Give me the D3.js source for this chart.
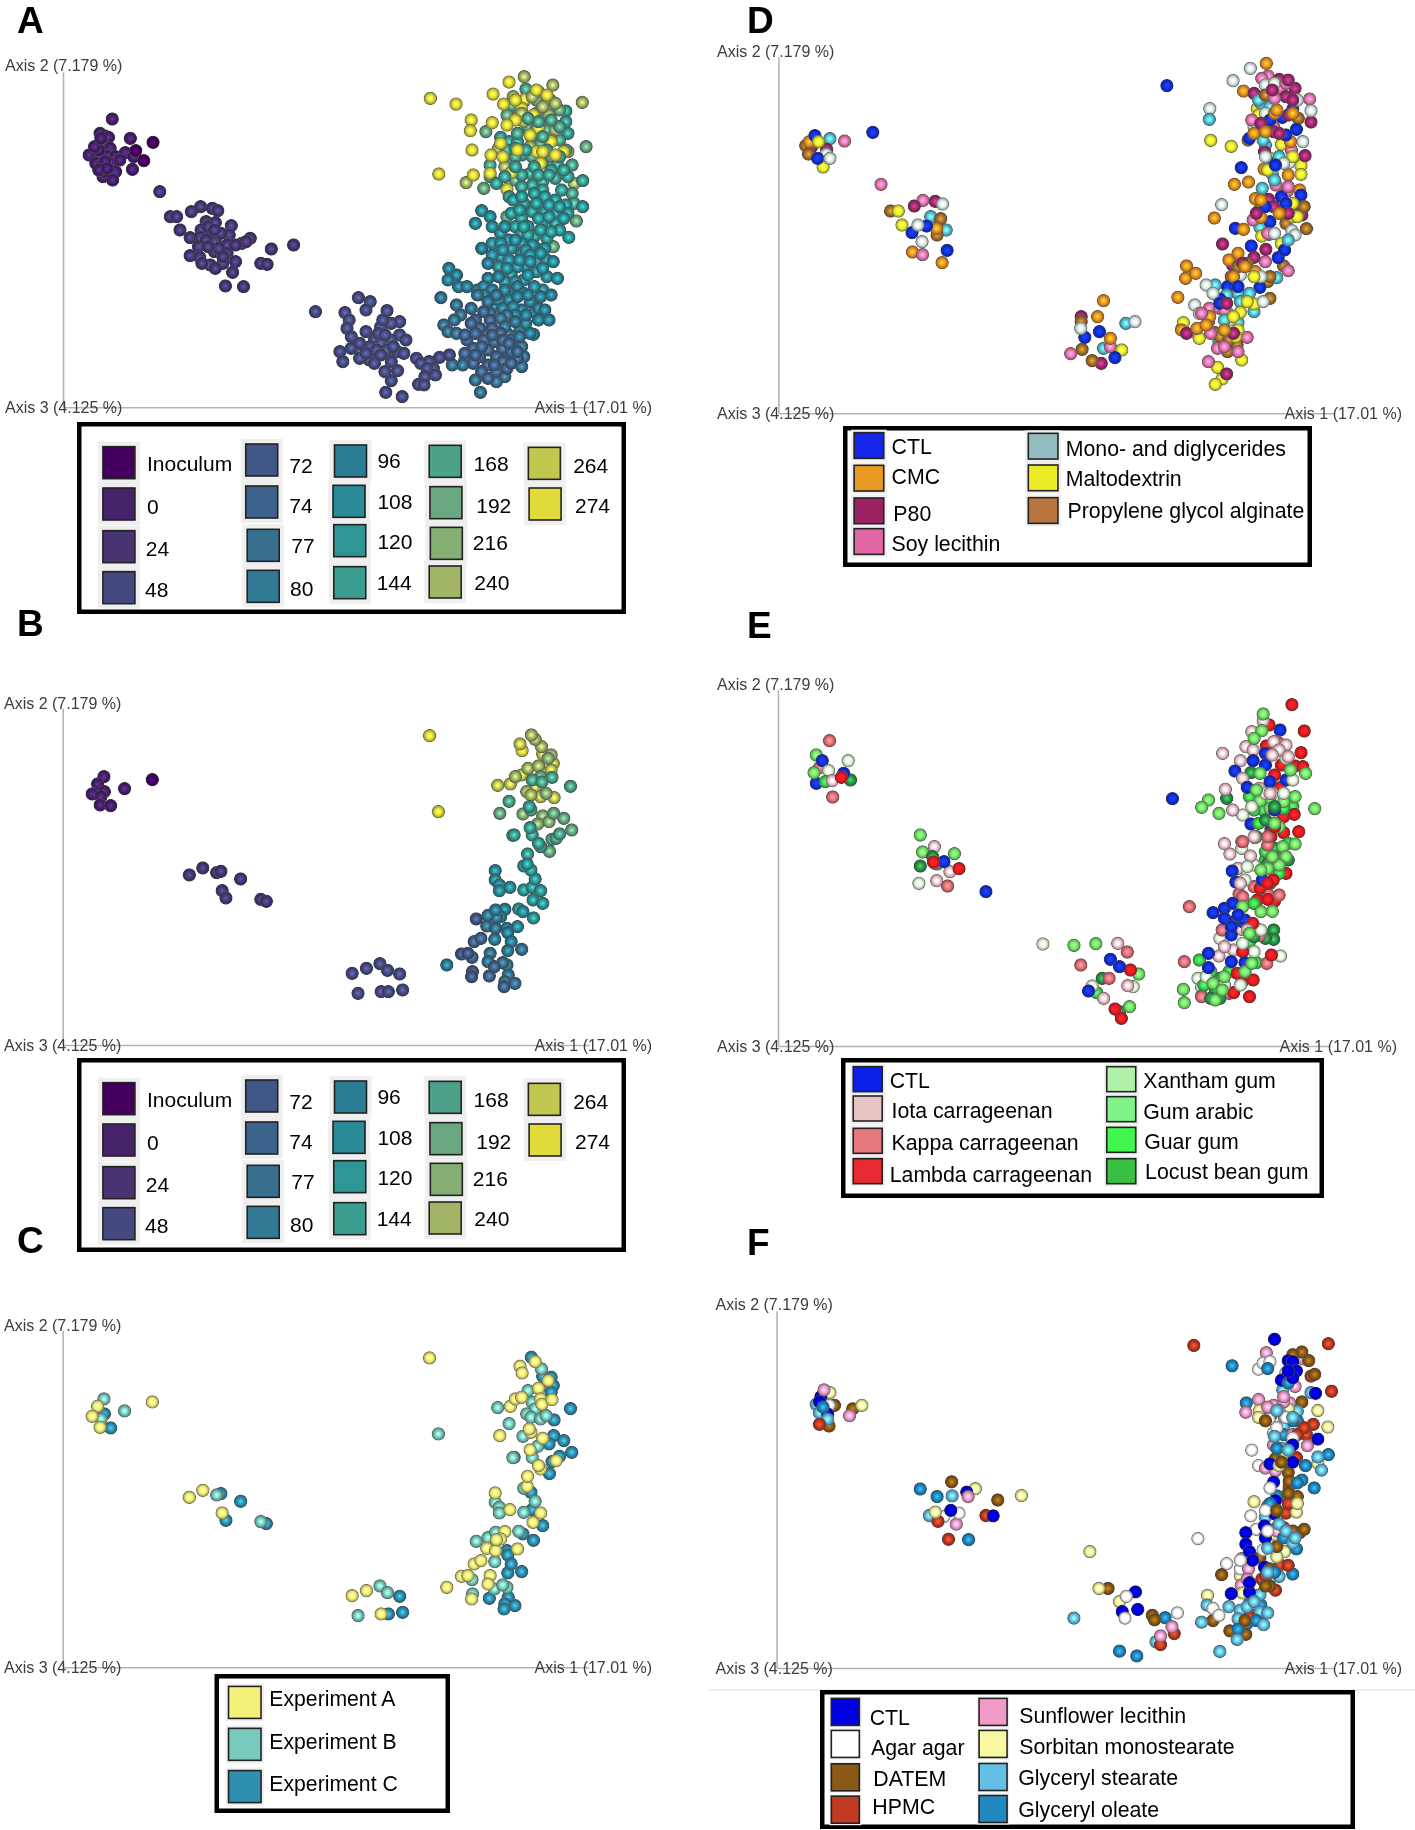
<!DOCTYPE html>
<html><head><meta charset="utf-8">
<script src="https://cdn.jsdelivr.net/npm/d3@7"></script>
<style>html,body{margin:0;padding:0;background:#fff}svg{display:block}</style>
</head><body>
<script>
// ---- categories ----
const timeLabels=["Inoculum","0","24","48","72","74","77","80","96","108","120","144","168","192","216","240","264","274"];
const timeColors=["#45025f","#45206a","#473673","#454a80","#3f5684","#3e628a","#37708e","#317993","#2b7d93","#2a8a98","#2e9696","#3b9c90","#4da18a","#68a77f","#84ae72","#a1b566","#c0c850","#e0da3a"];
const expLabels=["Experiment A","Experiment B","Experiment C"];
const expColors=["#f4f078","#78cabc","#2f8fae"];
const axisNames=["Axis 1 (17.01 %)","Axis 2 (7.179 %)","Axis 3 (4.125 %)"];

// ---- Panel A: ordination values read per time point ----
const A_inoc=[[364,427],[323,452],[342,482]];
const A_0=[[267,357],[310,415],[238,400],[250,408],[258,412],[243,435],[262,445],[225,465],[212,465],[240,470],[255,468],[275,470],[298,458],[318,470],[315,508],[228,490],[243,495],[262,490],[245,530],[268,520],[275,515],[268,540],[248,515],[235,450],[250,485],[235,510],[285,480],[225,440],[255,505],[240,415]];
const A_24=[[380,575],[405,650],[420,650],[455,635],[477,620],[505,625],[518,632],[428,690],[490,665],[512,668],[478,690],[452,713],[505,700],[550,677],[545,705],[476,712],[512,725],[540,735],[575,730],[595,715],[585,725],[472,740],[510,755],[452,767],[475,772],[540,760],[560,785],[500,795],[530,790],[512,805],[553,817],[645,747],[698,735],[620,790],[635,793],[536,858],[579,860],[495,680],[525,700],[490,720],[520,745],[495,740],[530,770],[480,790],[510,690],[560,735]];
const A_48=[[750,935],[852,893],[880,905],[870,930],[820,938],[920,932],[830,960],[950,965],[930,970],[905,980],[825,985],[870,995],[835,1010],[950,1005],[930,1020],[965,1020],[890,1020],[905,1030],[880,1040],[835,1045],[808,1055],[855,1055],[920,1050],[945,1055],[960,1060],[885,1060],[855,1075],[878,1080],[815,1085],[890,1090],[930,1085],[915,1115],[945,1112],[930,1142],[917,1177],[956,1190],[990,1075],[1020,1085],[1045,1072],[1068,1065],[1000,1090],[1030,1105],[1015,1105],[1035,1125],[1010,1130],[995,1153],[1008,1155],[900,1000],[915,1005],[895,1050],[905,1065],[870,1060],[935,1040],[855,1030],[910,960]];
const A_74=[[1130,960],[1150,935],[1165,960],[1140,985],[1170,985],[1130,1000],[1190,1000],[1110,1020],[1150,1020],[1175,1025],[1125,1045],[1160,1050],[1195,1045],[1105,1060],[1140,1070],[1180,1070],[1215,1055],[1125,1090],[1160,1095],[1195,1085],[1230,1075],[1145,1115],[1180,1115],[1205,1105],[1160,1135],[1170,1005],[1195,1020],[1120,970],[1145,1040],[1210,1030],[1230,1055],[1175,1095],[1130,1065],[1215,1090],[1105,1005]];
const A_80=[[1085,915],[1048,893],[1055,975],[1065,995],[1095,945],[1120,925],[1180,885],[1160,905],[1135,885],[1205,945],[1225,965],[1085,1000],[1105,1080],[1075,1095],[1240,1040],[1245,1070],[1240,1100],[1130,1140],[1200,1130],[1180,1145],[1142,1177],[1100,1095],[1215,1020],[1190,955],[1150,1000],[1205,1075],[1080,960],[1200,980],[1165,940],[1235,1010]];
const A_96=[[1067,805],[1085,825],[1065,840],[1090,860],[1110,860],[1135,870],[1160,835],[1185,830],[1200,870],[1230,860],[1210,900],[1240,930],[1270,935],[1250,970],[1280,960],[1305,960],[1268,1003],[1235,995],[1205,1000],[1225,1030],[1175,920],[1260,905],[1285,890],[1310,885],[1245,880],[1145,745],[1160,790],[1150,860],[1170,870],[1185,900],[1230,890],[1255,885],[1220,920],[1250,945],[1280,925],[1150,885],[1195,925],[1225,945],[1260,1000],[1295,930]];
const A_108=[[1145,632],[1165,650],[1130,670],[1170,680],[1190,700],[1170,730],[1215,745],[1190,770],[1210,780],[1240,760],[1275,785],[1250,800],[1230,800],[1185,800],[1215,825],[1275,815],[1300,830],[1325,835],[1290,870],[1245,840],[1270,860],[1300,780],[1315,785],[1210,720],[1240,730],[1265,735],[1295,745],[1190,730],[1170,765],[1225,870],[1200,680],[1225,720],[1250,750],[1285,760],[1260,765],[1195,750],[1235,780],[1260,785],[1205,805],[1290,805],[1255,825],[1225,845],[1200,845]];
const A_120=[[1220,600],[1245,610],[1270,580],[1295,590],[1320,600],[1265,635],[1295,635],[1320,640],[1345,615],[1240,655],[1225,680],[1255,680],[1290,665],[1320,670],[1240,700],[1270,710],[1300,715],[1352,712],[1330,690],[1385,620],[1215,640],[1350,640],[1240,590],[1275,610],[1305,615],[1330,620],[1235,630],[1280,655],[1305,650],[1340,655],[1255,705],[1285,690],[1310,695],[1245,680],[1275,745]];
const A_144=[[1190,412],[1210,425],[1230,425],[1262,410],[1345,333],[1350,400],[1345,365],[1215,490],[1240,465],[1260,520],[1290,495],[1325,495],[1240,525],[1265,555],[1290,545],[1320,535],[1350,530],[1385,542],[1240,560],[1290,570],[1210,590],[1180,550],[1335,570],[1205,450],[1225,445],[1250,450],[1300,450],[1330,470],[1200,530],[1225,500],[1270,500],[1310,510],[1340,510],[1280,525],[1305,525]];
const A_168=[[1250,267],[1215,317],[1245,305],[1300,330],[1275,340],[1255,380],[1300,390],[1330,420],[1285,430],[1310,470],[1165,495],[1165,530],[1360,495],[1225,470],[1265,470],[1345,450],[1360,580],[1365,610],[1330,380],[1310,360],[1280,365],[1230,400],[1255,355],[1290,410]];
const A_192=[[1275,300],[1308,300],[1155,395],[1393,440],[1150,565],[1205,650],[1215,490],[1315,740],[1370,663],[1330,330],[1230,350],[1225,540],[1275,385],[1205,345]];
const A_240=[[1246,230],[1314,255],[1384,307],[1108,548],[1185,445],[1245,365],[1280,275],[1305,345],[1350,455],[1200,500],[1290,510],[1320,390],[1365,550],[1260,440],[1310,420],[1220,290],[1265,290],[1290,320],[1320,310],[1240,340]];
const A_274=[[1023,295],[1084,312],[1120,360],[1118,392],[1122,450],[1170,368],[1172,282],[1210,246],[1043,522],[1125,525],[1167,465],[1165,520],[1205,568],[1197,312],[1247,298],[1240,325],[1268,345],[1280,385],[1310,425],[1275,455],[1340,455],[1285,490],[1215,518],[1225,360],[1205,375],[1195,470],[1275,270],[1300,285],[1225,300],[1260,405],[1290,455],[1230,450],[1320,465],[1190,430]];

// ---- Panels B and C: same samples; x, y, time index, experiment ----
const samples=[[362,299,0,"A"],[247,290,1,"B"],[232,312,1,"A"],[296,326,1,"B"],[248,335,1,"C"],[219,342,1,"A"],[240,350,1,"B"],[238,375,1,"A"],[263,377,1,"C"],
[450,585,2,"A"],[482,564,2,"A"],[515,578,2,"B"],[525,574,2,"C"],[572,597,2,"C"],[528,632,2,"A"],[537,654,2,"C"],[620,658,2,"B"],[633,664,2,"C"],
[837,880,3,"A"],[871,865,3,"A"],[903,851,3,"B"],[921,871,3,"B"],[950,882,3,"C"],[851,940,3,"B"],[906,935,3,"A"],[923,935,3,"C"],[957,930,3,"C"],
[1062,855,8,"A"],[1097,822,4,"A"],[1112,820,4,"A"],[1122,832,5,"B"],[1127,785,5,"A"],[1143,775,5,"A"],[1132,717,4,"B"],[1123,875,4,"B"],[1121,890,4,"A"],[1163,888,5,"C"],[1165,820,6,"A"],[1160,845,6,"A"],[1175,860,5,"B"],[1205,855,7,"B"],[1195,848,6,"B"],[1208,885,6,"C"],[1200,905,6,"C"],[1198,920,5,"C"],[1224,910,6,"C"],[1207,812,7,"C"],[1240,808,6,"C"],[1176,778,7,"B"],
[1157,738,6,"A"],[1178,745,6,"A"],[1160,706,7,"B"],[1178,690,7,"B"],[1200,688,8,"A"],[1190,710,8,"A"],[1180,712,8,"A"],[1205,745,8,"C"],[1230,740,9,"A"],[1207,758,8,"C"],[1215,785,8,"C"],
[1233,687,10,"B"],[1243,695,9,"C"],[1268,714,10,"C"],[1267,660,10,"A"],[1290,670,10,"C"],[1245,630,10,"B"],[1265,622,10,"C"],[1285,632,10,"A"],[1272,597,10,"B"],[1262,570,10,"C"],[1245,558,10,"B"],[1253,552,10,"A"],[1254,522,11,"A"],[1177,572,9,"A"],[1177,600,9,"B"],[1187,615,9,"B"],[1187,632,9,"B"],[1212,622,9,"A"],
[1219,466,11,"B"],[1222,465,11,"C"],[1265,465,11,"B"],[1260,443,11,"A"],[1285,500,11,"A"],[1280,490,11,"A"],[1306,514,13,"C"],[1312,478,12,"C"],[1322,475,12,"A"],[1330,462,12,"C"],[1359,450,13,"C"],[1340,415,13,"C"],[1316,400,13,"C"],[1290,408,14,"A"],[1305,425,14,"C"],[1278,432,14,"B"],[1243,402,14,"B"],[1262,390,12,"A"],[1258,380,11,"A"],[1188,400,13,"A"],[1210,364,12,"B"],[1356,319,12,"C"],
[1183,316,16,"B"],[1213,312,16,"A"],[1225,290,15,"A"],[1240,285,16,"A"],[1255,265,15,"B"],[1280,258,15,"A"],[1285,290,13,"A"],[1265,300,12,"B"],[1288,306,12,"A"],[1272,320,16,"B"],[1252,335,15,"B"],[1262,345,15,"B"],[1285,350,16,"B"],[1298,340,14,"B"],[1317,353,16,"C"],[1312,292,12,"A"],[1303,235,14,"A"],[1300,252,16,"C"],[1310,225,15,"C"],[1315,250,16,"C"],[1310,270,16,"C"],[1290,222,16,"C"],[1287,200,15,"B"],[1272,178,15,"A"],[1263,165,15,"C"],[1236,192,16,"A"],[1241,212,17,"A"],
[1021,167,17,"A"],[1042,395,17,"B"]];

// ---- Panel D ----
const dLabels=["CTL","CMC","P80","Soy lecithin","Mono- and diglycerides","Maltodextrin","Propylene glycol alginate"];
const dColors=["#1228e8","#e89a20","#9c2462","#e066a4","#93bcc0","#ecec28","#b87440"];
const dSphere=["#1230e0","#ea9420","#a02a70","#e878b0","#d8ece4","#eef030","#a87228"];
const D_CTL=[[1024,257],[379,397],[252,407],[258,475],[465,698],[497,678],[542,751],[844,1012],[876,995],[910,1073],[1187,503],[1174,685],[1300,327],[1277,352],[1308,388],[1285,405],[1235,378],[1260,490],[1250,665],[1275,590],[1318,585],[1209,738],[1268,773],[1282,750],[1157,860],[1228,862],[1140,897],[1205,415],[1250,360],[1262,495],[1240,620],[1285,610],[1180,860],[1140,910]];
const D_CMC=[[1242,190],[1192,273],[240,425],[466,756],[531,788],[519,685],[885,902],[872,950],[900,1015],[1172,553],[1203,546],[1128,654],[1192,688],[1237,507],[1218,596],[1295,425],[1290,525],[1315,570],[1292,620],[1230,652],[1067,798],[1065,835],[1087,820],[1048,892],[1056,990],[1160,780],[1180,760],[1218,815],[1170,830],[1215,400],[1260,340],[1118,950],[1090,985],[1240,395],[1265,330],[1300,340],[1230,600],[1270,640],[1195,800],[1150,990],[1110,975]];
const D_P80=[[245,440],[278,448],[470,618],[516,604],[836,950],[880,1090],[1146,732],[1340,366],[1327,467],[1270,238],[1305,265],[1285,290],[1215,280],[1240,300],[1228,400],[1258,395],[1238,455],[1247,598],[1258,620],[1318,622],[1320,645],[1290,345],[1241,748],[1215,772],[1168,795],[1155,1122],[1067,1000],[1290,240],[1255,270],[1300,300],[1230,370],[1270,400],[1290,640],[1220,640],[1190,790],[1155,910],[1170,1000]];
const D_Soy=[[317,423],[397,553],[489,601],[488,764],[813,1061],[900,1040],[1246,228],[1232,235],[1272,262],[1337,297],[1258,380],[1297,450],[1263,555],[1288,573],[1213,660],[1240,785],[1290,812],[1117,925],[1140,925],[1200,1012],[1087,998],[1115,1085],[1180,1055],[1135,1045],[1150,930],[1285,250],[1260,295],[1210,360],[1290,560],[1245,700],[1150,1040],[1120,1000],[1100,940]];
const D_Mono=[[1207,205],[1169,242],[1118,326],[277,463],[285,475],[532,612],[487,725],[478,675],[835,985],[954,965],[1144,614],[1240,255],[1340,332],[1322,425],[1225,350],[1215,380],[1293,487],[1298,692],[1305,705],[1110,855],[1085,915],[1095,940],[1185,825],[1162,960],[1235,905],[1260,250],[1310,300],[1240,340],[1240,470],[1280,490],[1260,700],[1125,880],[1230,830]];
const D_Malto=[[1120,421],[1165,439],[270,501],[260,425],[435,633],[443,675],[925,1050],[1275,433],[1318,497],[1318,523],[1222,326],[1250,475],[1300,650],[1232,708],[1275,730],[1188,1080],[1135,1102],[1145,1137],[1130,1153],[1155,935],[1185,937],[1060,968],[1095,1015],[1215,912],[1180,990],[1225,345],[1300,470],[1245,510],[1310,650],[1300,610],[1200,905],[1175,1010],[1170,950],[1215,830]];
const D_PGA=[[232,437],[238,462],[418,633],[528,656],[520,705],[836,965],[838,1048],[860,1082],[1202,420],[1312,355],[1285,670],[1330,686],[1225,632],[1250,895],[1280,798],[1245,845],[1165,830],[1057,985],[1130,998],[1157,1055],[1178,1035],[1115,965],[1325,620],[1305,300],[1240,285],[1285,640],[1200,790],[1180,800],[1140,1010],[1160,1020],[1250,830]];
const D_Cyan=[[285,416],[506,650],[540,690],[885,1045],[934,970],[1117,358],[1240,435],[1233,565],[1228,682],[1248,703],[1265,833],[1240,840],[1180,880],[1130,855],[1185,905],[1215,935],[1180,968],[1138,1025],[1255,522],[1230,310],[1225,300],[1250,320],[1235,420],[1270,470],[1260,540],[1290,720],[1155,885],[1205,880],[1150,960]];

// ---- Panel E ----
const eLabels=["CTL","Iota carrageenan","Kappa carrageenan","Lambda carrageenan","Xantham gum","Gum arabic","Guar gum","Locust bean gum"];
const eColors=["#1020e8","#e8c4c4","#e87880","#e82c30","#b0f0a8","#80f488","#40f650","#38c040"];
const eSphere=["#1230e0","#f4c8d0","#e87078","#ee1c20","#e4f8dc","#74ea68","#3cd84c","#2a9848"];
const E_CTL=[[1036,386],[627,665],[255,340],[268,272],[315,310],[535,575],[1272,180],[1173,303],[1213,272],[1240,250],[1240,285],[1200,352],[1250,335],[1285,330],[1208,462],[1250,460],[1260,420],[1167,603],[1175,636],[1233,630],[1125,728],[1150,715],[1168,700],[1150,745],[1170,755],[1190,755],[1195,750],[1165,795],[1115,850],[1115,893],[1165,875],[1195,878],[900,868],[920,890],[852,963],[1165,770],[1180,735]];
const E_Iota=[[514,530],[548,605],[519,632],[1146,250],[1185,272],[1197,230],[1213,240],[1210,185],[1235,152],[1190,325],[1152,358],[1168,420],[1227,355],[1150,521],[1162,552],[1207,558],[1188,515],[1180,595],[1188,778],[1138,858],[1170,840],[1150,830],[916,820],[938,947],[885,985],[290,332],[1258,215],[1285,225],[1270,240],[1250,370],[1215,500],[1200,780],[1255,255],[1290,260],[1185,640]];
const E_Kappa=[[284,212],[291,381],[262,293],[515,580],[543,648],[1073,710],[1062,875],[937,846],[897,925],[835,885],[1182,672],[1245,672],[1215,650],[1228,797],[1243,880],[1145,780],[1245,525],[1190,515],[1100,980],[1160,970],[1280,235],[1265,215],[1190,680],[1270,675],[1245,500],[1270,220]];
const E_Lambda=[[1298,104],[1325,183],[1318,248],[1242,228],[1248,165],[1305,288],[1322,290],[1275,285],[1260,315],[1272,353],[1280,440],[1303,433],[1252,478],[1280,488],[1313,485],[1252,500],[1285,610],[1257,630],[1228,655],[1222,690],[1260,693],[1245,688],[1190,845],[1178,910],[1188,938],[1213,930],[1170,968],[1205,980],[1253,855],[1212,760],[568,596],[944,900],[910,1017],[924,1045],[310,322],[512,576],[1260,470],[1245,640],[1195,905]];
const E_Xantham=[[752,822],[480,640],[325,272],[1273,858],[1190,435],[1140,805],[1092,925],[1100,952],[1215,585],[1188,535],[1258,565],[1285,265],[1255,370],[282,302],[950,950],[1215,845],[1300,330],[1195,630],[1215,700],[1255,690],[860,948],[1110,920],[1240,370],[1210,410],[1280,370],[1230,780],[1200,590],[1185,945],[1150,945],[1190,820]];
const E_GumArabic=[[483,495],[488,546],[558,551],[255,255],[250,308],[1348,416],[1115,390],[1100,412],[1138,430],[1305,380],[1235,132],[1232,182],[1215,205],[1228,310],[1228,392],[1280,395],[1250,415],[1217,503],[1305,522],[1278,530],[1285,560],[1245,595],[1270,585],[1190,710],[1255,724],[1230,725],[1060,958],[1062,998],[820,826],[868,821],[942,1010],[962,912],[1125,940],[1150,920],[1130,990],[1328,310],[1270,470],[1220,360],[1295,300],[1255,560],[1260,460],[1230,600],[1205,790],[1145,960],[1195,905],[1210,880]];
const E_Guar=[[520,582],[870,968],[1205,380],[1300,410],[1235,420],[1215,420],[1250,395],[1240,570],[1220,775],[1205,815],[1095,870],[1120,905],[1220,878],[275,335],[1280,415],[1290,520],[1240,545],[1270,610],[1225,460],[1105,945],[1160,905],[1215,700]];
const E_Locust=[[483,588],[330,330],[1155,385],[1208,308],[882,925],[1258,780],[1258,808],[1240,805],[1100,978],[1130,960],[1140,925],[920,1025],[1250,640],[510,560],[1270,590],[1260,535],[1290,570],[1220,500],[1260,410],[1275,560],[1245,580],[1150,950],[1120,985],[1140,985],[1215,800],[1240,450]];

// ---- Panel F ----
const fLabels=["CTL","Agar agar","DATEM","HPMC","Sunflower lecithin","Sorbitan monostearate","Glyceryl stearate","Glyceryl oleate"];
const fColors=["#0000e0","#ffffff","#8c5a14","#c03a20","#f09cc8","#f8f8a0","#64c0e4","#2088c0"];
const F_CTL=[[265,310],[262,325],[280,360],[585,587],[550,640],[643,656],[955,877],[926,934],[960,928],[1260,143],[1290,205],[1300,208],[1308,235],[1275,262],[1350,300],[1355,433],[1250,505],[1258,558],[1262,612],[1260,650],[1238,685],[1197,705],[1197,738],[1205,760],[1212,785],[1238,805],[1165,882],[1205,878],[1300,500],[1300,255],[1290,235],[1240,720],[1205,850],[1300,450]];
const F_Agar=[[283,335],[515,660],[535,658],[568,648],[1225,230],[1235,212],[1250,208],[1285,240],[1210,465],[1225,510],[1258,415],[1275,440],[1298,395],[1092,722],[1208,656],[1255,675],[1220,695],[1250,730],[1155,795],[1185,810],[935,890],[932,953],[1047,938],[1125,925],[1138,945],[1250,575],[1248,375],[1265,400],[1285,370],[1300,430],[1240,640],[1235,755],[1185,785],[1245,700]];
const F_DATEM=[[295,335],[335,345],[283,395],[552,557],[653,610],[895,867],[992,945],[997,958],[1320,180],[1300,188],[1335,205],[1348,245],[1320,325],[1252,365],[1262,490],[1290,530],[1292,555],[1310,600],[1245,628],[1325,695],[1228,778],[1265,745],[1144,827],[1125,960],[1162,990],[1197,1000],[1250,860],[1290,590],[1265,690],[1250,810],[1240,860],[1240,380],[1275,500],[1265,640],[1300,700],[1195,960]];
const F_HPMC=[[1083,161],[1378,156],[1385,294],[262,390],[545,724],[627,655],[522,672],[1340,250],[1345,390],[1330,420],[1308,487],[1292,572],[1288,607],[1285,648],[1315,705],[1272,798],[1262,872],[1232,840],[1010,1030],[1040,998],[1218,945],[1280,690],[1325,400],[1290,620],[1240,830],[1290,800],[1205,950],[1310,420]];
const F_Sunflower=[[272,290],[328,365],[562,680],[588,600],[1242,182],[1323,200],[1305,280],[1225,318],[1197,355],[1258,335],[1293,328],[1282,373],[1332,452],[1240,517],[1262,525],[1258,450],[1240,712],[1272,707],[1188,780],[1203,810],[1240,840],[1187,857],[1010,1005],[1035,978],[1280,325],[1270,350],[1300,420],[1280,310],[1245,340],[1265,700],[1200,840]];
const F_Sorbitan=[[285,298],[355,335],[604,577],[705,597],[855,760],[875,867],[920,905],[516,645],[1227,350],[1355,350],[1377,398],[1355,503],[1285,487],[1308,645],[1282,760],[1265,775],[1113,887],[1185,830],[1225,370],[1215,615],[1290,345],[1270,510],[1285,470],[1310,620],[1260,710],[1190,880]];
const F_Stearate=[[255,332],[262,357],[280,375],[503,655],[553,598],[820,953],[1000,1022],[1140,1050],[1285,255],[1278,290],[1340,298],[1250,350],[1280,395],[1298,445],[1310,352],[1355,485],[1363,523],[1275,460],[1240,660],[1298,710],[1270,832],[1228,885],[1112,915],[1160,920],[1185,930],[1228,935],[1245,938],[1180,955],[1236,972],[1178,1015],[1100,965],[1300,735],[1265,350],[1300,370],[1290,465],[1260,425],[1270,680],[1245,750],[1285,700],[1305,720],[1245,820],[1200,920],[1215,905]];
const F_Oleate=[[483,578],[520,600],[589,725],[920,1049],[958,1063],[1020,952],[1167,220],[1245,228],[1198,328],[1378,478],[1320,552],[1347,575],[1328,510],[1265,598],[1300,825],[1308,752],[1298,710],[1205,910],[1200,968],[1230,915],[1290,270],[1310,380],[270,340],[1280,420],[1300,380],[1265,460],[1310,560],[1220,960],[1180,985],[1250,620],[1280,720],[1260,820]];

// ---- drawing ----
const W=1415,H=1830,R=6.9;
const svg=d3.select("body").append("svg").attr("width",W).attr("height",H);
const defs=svg.append("defs");
defs.append("filter").attr("id","soft").attr("x","-5%").attr("y","-5%").attr("width","110%").attr("height","110%")
  .append("feGaussianBlur").attr("stdDeviation",0.5);
const grads=new Map();
function sphere(c){
  if(grads.has(c))return grads.get(c);
  const id="g"+grads.size; grads.set(c,id);
  const col=d3.color(c);
  const rim=d3.rgb(d3.interpolateRgb(col.darker(1.4),"#555")(0.5));
  const g=defs.append("radialGradient").attr("id",id);
  [[0,col.brighter(1.3),1],[0.2,col.brighter(0.7),1],[0.5,col,1],[0.76,col.darker(0.7),1],[0.9,rim,1],[1,d3.rgb(130,130,130),0.3]].forEach(([o,k,a])=>
    g.append("stop").attr("offset",o).attr("stop-color",k.formatHex()).attr("stop-opacity",a));
  return id;
}
const FONT="'Liberation Sans',Arial,sans-serif";
const root=svg.append("g").attr("filter","url(#soft)");

function panel(p){
  const x=d3.scaleLinear().domain(p.xd).range(p.xr);
  const y=d3.scaleLinear().domain(p.yd).range(p.yr);
  const g=root.append("g");
  g.append("g").attr("transform",`translate(0,${p.yr[0]})`).call(d3.axisBottom(x).tickValues([]).tickSizeOuter(0));
  g.append("g").attr("transform",`translate(${p.xr[0]},0)`).call(d3.axisLeft(y).tickValues([]).tickSizeOuter(0));
  g.selectAll(".domain").attr("stroke","#b4b4b4").attr("stroke-width",1.6);
  const lab=[[axisNames[1],p.lx,p.ty,"start"],[axisNames[2],p.lx,p.yr[0],"start"],[axisNames[0],p.rx,p.yr[0],"end"]];
  g.selectAll("text.ax").data(lab).join("text").attr("class","ax").text(d=>d[0]).attr("x",d=>d[1]).attr("y",d=>d[2])
    .attr("text-anchor",d=>d[3]).attr("dominant-baseline","central").attr("font-family",FONT).attr("font-size",16).attr("fill","#3c3c3c");
  g.append("g").selectAll("circle").data(p.marks).join("circle")
    .attr("cx",d=>x(d[0])).attr("cy",d=>y(d[1])).attr("r",R).attr("fill",d=>`url(#${sphere(d[2])})`);
}
const seq=(list)=>list.flatMap(([pts,c])=>pts.map(q=>[q[0],q[1],c]));
function mixed(list){ // interleave series so that no colour hides the others
  const out=[],n=d3.max(list,l=>l[0].length);
  for(let i=0;i<n;i++)list.forEach(([pts,c])=>{if(pts[i])out.push([pts[i][0],pts[i][1],c]);});
  return out;
}
const T=timeColors;
const aMarks=[...mixed([[A_144,T[11]],[A_168,T[12]],[A_192,T[13]],[A_240,T[15]],[A_274,T[17]]]),
  ...seq([[A_120,T[10]],[A_108,T[9]],[A_96,T[8]],[A_80,T[6]],[A_74,T[5]],[A_48,T[3]],[A_24,T[2]],[A_0,T[1]],[A_inoc,T[0]]])];
const bMarks=samples.slice().sort((a,b)=>b[2]-a[2]).map(s=>[s[0],s[1],T[s[2]]]);
const cMarks=["C","B","A"].flatMap(e=>samples.filter(s=>s[3]===e).map(s=>[s[0],s[1],expColors["ABC".indexOf(e)]]));
const dMarks=mixed([[D_Malto,dSphere[5]],[D_Mono,dSphere[4]],[D_Cyan,"#58c4d8"],[D_PGA,dSphere[6]],[D_CMC,dSphere[1]],[D_Soy,dSphere[3]],[D_CTL,dSphere[0]],[D_P80,dSphere[2]]]);
const eMarks=mixed([[E_Locust,eSphere[7]],[E_Xantham,eSphere[4]],[E_Guar,eSphere[6]],[E_GumArabic,eSphere[5]],[E_Iota,eSphere[1]],[E_Kappa,eSphere[2]],[E_CTL,eSphere[0]],[E_Lambda,eSphere[3]]]);
const fMarks=mixed([[F_Oleate,fColors[7]],[F_DATEM,fColors[2]],[F_HPMC,fColors[3]],[F_Agar,fColors[1]],[F_Sorbitan,fColors[5]],[F_CTL,fColors[0]],[F_Stearate,fColors[6]],[F_Sunflower,fColors[4]]]);

panel({xd:[150,1400],xr:[63,589],yd:[1222,215],yr:[407.3,71.7],lx:5,rx:652,ty:65,marks:aMarks});
panel({xd:[149,1400],xr:[62.7,589],yd:[1095,85],yr:[1045,708.3],lx:4,rx:652,ty:703,marks:bMarks});
panel({xd:[149,1400],xr:[62.7,589],yd:[1095,85],yr:[1667.3,1330.6],lx:4,rx:652,ty:1325,marks:cMarks});
panel({xd:[172,1390],xr:[778.4,1333.8],yd:[1240,170],yr:[413.3,56.7],lx:717,rx:1402,ty:51,marks:dMarks});
panel({xd:[171,1380],xr:[778,1329.3],yd:[1128,60],yr:[1046,690],lx:717,rx:1397,ty:684,marks:eMarks});
panel({xd:[168,1390],xr:[776.6,1333.8],yd:[1098,60],yr:[1668,1310.7],lx:715.5,rx:1402,ty:1304,marks:fMarks});

// panel letters
const letters=[["A",17,33],["B",17,636],["C",17,1253],["D",747,33],["E",747,638],["F",747,1255]];
root.append("g").selectAll("text").data(letters).join("text").text(d=>d[0]).attr("x",d=>d[1]).attr("y",d=>d[2])
  .attr("font-family",FONT).attr("font-weight","bold").attr("font-size",37).attr("fill","#000");

// legends
function legend(L){
  const g=root.append("g");
  g.append("rect").attr("x",L.box[0]+L.sw/2).attr("y",L.box[1]+L.sw/2).attr("width",L.box[2]-L.box[0]-L.sw).attr("height",L.box[3]-L.box[1]-L.sw)
    .attr("fill","#fff").attr("stroke","#000").attr("stroke-width",L.sw);
  L.items.forEach(it=>{
    const [lab,c,sx,sy,tx,ty]=it;
    const X=L.ox+sx/L.kx,Y=L.oy+sy/L.ky;
    g.append("rect").attr("x",X-L.pad).attr("y",Y-L.pad).attr("width",L.w+2*L.pad).attr("height",L.h+2*L.pad).attr("fill","#efefef");
    g.append("rect").attr("x",X).attr("y",Y).attr("width",L.w).attr("height",L.h).attr("fill",c).attr("stroke","#222").attr("stroke-width",1.6);
    g.append("text").text(lab).attr("x",L.ox+tx/L.kx).attr("y",L.oy+ty/L.ky).attr("dominant-baseline","central")
      .attr("font-family",FONT).attr("font-size",L.fs).attr("fill","#000");
  });
}
const timeSlots=[[116,140,235,190],[116,264,235,318],[116,392,232,445],[116,515,230,568],[502,132,620,195],[502,258,620,315],[506,388,625,437],[506,511,622,565],[742,135,858,182],[738,256,858,303],[740,374,858,423],[740,500,856,547],[998,136,1118,190],[1000,260,1125,317],[1001,382,1116,428],[998,498,1120,548],[1266,142,1387,195],[1268,264,1392,317]];
const timeItems=timeLabels.map((l,i)=>[l,timeColors[i],...timeSlots[i]]);
legend({box:[77,422,626,614],sw:4.5,ox:60,oy:400,kx:2.703,ky:3,w:32,h:32,pad:5,fs:21,items:timeItems});
legend({box:[77,1058,626,1252],sw:4.5,ox:60,oy:1036,kx:2.703,ky:3,w:32,h:32,pad:5,fs:21,items:timeItems});
legend({box:[214.5,1674,450,1813],sw:4.5,ox:0,oy:1300,kx:2.376,ky:2.958,w:32.5,h:32,pad:3,fs:21.2,
  items:expLabels.map((l,i)=>[l,expColors[i],543,[1143,1267,1392][i],640,[1180,1305,1430][i]])});
const dSlots=[[338,98,420,142],[338,196,420,232],[338,294,424,343],[338,386,420,432],[720,100,802,146],[720,195,802,237],[720,293,806,332]];
legend({box:[843,426,1312,567],sw:4.5,ox:700,oy:400,kx:2.193,ky:3,w:29.6,h:25.7,pad:3,fs:21.3,items:dLabels.map((l,i)=>[l,dColors[i],...dSlots[i]])});
const eSlots=[[336,80,416,122],[336,168,420,212],[336,265,420,308],[336,356,416,405],[892,80,972,123],[892,170,972,215],[892,262,974,306],[892,356,976,396]];
legend({box:[841,1058,1324,1198],sw:4.5,ox:700,oy:1040,kx:2.193,ky:3,w:29,h:25,pad:3,fs:21.3,items:eLabels.map((l,i)=>[l,eColors[i],...eSlots[i]])});
svg.append("line").attr("x1",708).attr("x2",1415).attr("y1",1690).attr("y2",1690).attr("stroke","#ddd").lower();
const fSlots=[[288,1186,372,1243],[288,1279,375,1330],[288,1376,380,1420],[288,1470,378,1502],[612,1186,700,1238],[612,1279,700,1328],[612,1375,698,1417],[612,1468,698,1511]];
legend({box:[820,1690,1355,1829],sw:4.5,ox:700,oy:1290,kx:2.193,ky:2.904,w:28,h:27,pad:2,fs:21.3,items:fLabels.map((l,i)=>[l,fColors[i],...fSlots[i]])});
</script>
</body></html>
